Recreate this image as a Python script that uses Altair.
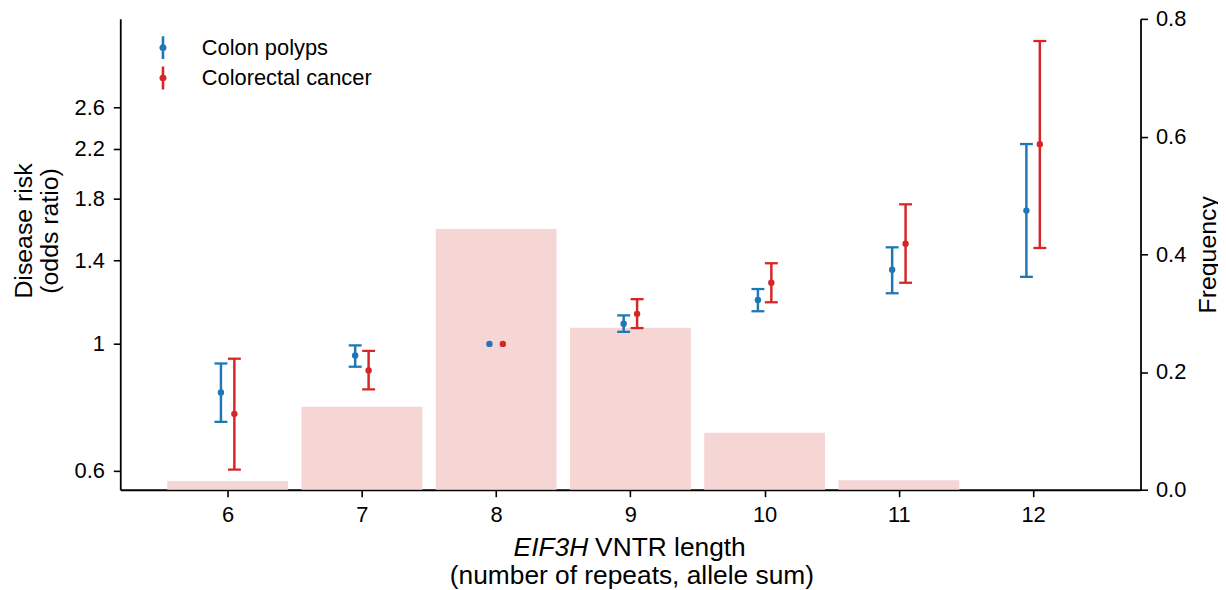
import altair as alt
import pandas as pd

# ---------------- data ----------------
lengths = [6, 7, 8, 9, 10, 11, 12]
frequency = [0.015, 0.141, 0.443, 0.275, 0.097, 0.016, 0.0]

series_names = ["Colon polyps", "Colorectal cancer"]
series_colors = ["#1f77b4", "#d62728"]

polyps_or = [0.822, 0.954, 1.0, 1.085, 1.194, 1.349, 1.713]
polyps_lo = [0.730, 0.912, None, 1.050, 1.141, 1.227, 1.311]
polyps_hi = [0.924, 0.994, None, 1.122, 1.248, 1.477, 2.241]

cancer_or = [0.754, 0.898, 1.0, 1.129, 1.280, 1.499, 2.239]
cancer_lo = [0.602, 0.832, None, 1.066, 1.183, 1.280, 1.473]
cancer_hi = [0.942, 0.972, None, 1.198, 1.385, 1.757, 3.397]

or_ticks = [0.6, 1, 1.4, 1.8, 2.2, 2.6]
freq_ticks = [0.0, 0.2, 0.4, 0.6, 0.8]

x_title_italic = "EIF3H"
x_title_rest = "VNTR length"
x_title_line2 = "(number of repeats, allele sum)"
y_left_title = ["Disease risk", "(odds ratio)"]
y_right_title = "Frequency"

# ---------------- tables ----------------
freq_df = pd.DataFrame({"length": lengths, "freq": frequency})

rows = []
for name, o, lo, hi in [
    (series_names[0], polyps_or, polyps_lo, polyps_hi),
    (series_names[1], cancer_or, cancer_lo, cancer_hi),
]:
    for i, L in enumerate(lengths):
        rows.append({"length": L, "series": name, "or": o[i], "lo": lo[i], "hi": hi[i]})
or_df = pd.DataFrame(rows)

FONT = "Liberation Sans"
x_scale = alt.Scale(domain=[5.2, 12.8], nice=False, zero=False)
log_scale = alt.Scale(type="log", domain=[0.555, 3.715], nice=False)
freq_scale = alt.Scale(domain=[0, 0.8], nice=False)
color_scale = alt.Scale(domain=series_names, range=series_colors)

x_axis = alt.Axis(values=lengths, format="d", title=None, labelPadding=8)

legend = alt.Legend(
    title=None,
    orient="none",
    legendX=30,
    legendY=16,
    padding=0,
    rowPadding=-3.5,
    labelOffset=26,
    labelLimit=400,
    symbolType="M0,-1V1M-0.2,0A0.2,0.2 0 1,0 0.2,0A0.2,0.2 0 1,0 -0.2,0",
    symbolSize=529,
    symbolStrokeWidth=2.6,
    symbolOpacity=1,
    labelFont=FONT,
    labelFontSize=22,
    labelColor="black",
)

series_color_fixed = alt.condition(
    "datum.series == '%s'" % series_names[0],
    alt.value(series_colors[0]),
    alt.value(series_colors[1]),
)

# ---------------- layers ----------------
bars = (
    alt.Chart(freq_df)
    .transform_calculate(x0="datum.length - 0.45", x1="datum.length + 0.45", zero="0")
    .mark_rect(color="#f6d5d5")
    .encode(
        x=alt.X("x0:Q", scale=x_scale, axis=x_axis),
        x2="x1:Q",
        y=alt.Y(
            "freq:Q",
            scale=freq_scale,
            axis=alt.Axis(
                orient="right",
                values=freq_ticks,
                format=".1f",
                title=y_right_title,
                titleAngle=270,
                titleBaseline="top",
                titlePadding=10,
                labelPadding=8,
            ),
        ),
        y2="zero:Q",
    )
)

offset_calc = "datum.length + (datum.series == '%s' ? -0.05 : 0.05)" % series_names[0]

base = alt.Chart(or_df).transform_calculate(xpos=offset_calc)

rules = base.mark_rule(strokeWidth=2.5, opacity=1).encode(
    x=alt.X("xpos:Q", scale=x_scale, axis=x_axis),
    y=alt.Y(
        "lo:Q",
        scale=log_scale,
        axis=alt.Axis(
            orient="left",
            values=or_ticks,
            labelExpr="datum.value == 1 ? '1' : format(datum.value, '.1f')",
            title=y_left_title,
            titleY=213,
            titlePadding=12,
            titleLineHeight=26,
            labelPadding=9,
        ),
    ),
    y2="hi:Q",
    color=series_color_fixed,
)

caps_lo = base.mark_tick(orient="horizontal", size=13, thickness=2.3, opacity=1).encode(
    x=alt.X("xpos:Q", scale=x_scale, axis=x_axis),
    y=alt.Y("lo:Q", scale=log_scale, axis=None),
    color=series_color_fixed,
)
caps_hi = base.mark_tick(orient="horizontal", size=13, thickness=2.3, opacity=1).encode(
    x=alt.X("xpos:Q", scale=x_scale, axis=x_axis),
    y=alt.Y("hi:Q", scale=log_scale, axis=None),
    color=series_color_fixed,
)
points = base.mark_point(filled=True, size=20, opacity=1, strokeWidth=2).encode(
    x=alt.X("xpos:Q", scale=x_scale, axis=x_axis),
    y=alt.Y("or:Q", scale=log_scale, axis=None),
    color=alt.Color("series:N", scale=color_scale, legend=legend),
    stroke=alt.Stroke("series:N", scale=color_scale, legend=legend),
)

title_src = alt.Chart(pd.DataFrame({"k": [0]}))
t1 = title_src.mark_text(
    text=x_title_italic, align="right", baseline="alphabetic",
    font=FONT, fontSize=26.5, fontStyle="italic", color="black",
).encode(x=alt.value(471), y=alt.value(541))
t2 = title_src.mark_text(
    text=x_title_rest, align="left", baseline="alphabetic",
    font=FONT, fontSize=26.5, color="black",
).encode(x=alt.value(478), y=alt.value(541))
t3 = title_src.mark_text(
    text=x_title_line2, align="center", baseline="alphabetic",
    font=FONT, fontSize=26.5, color="black",
).encode(x=alt.value(515), y=alt.value(569))

chart = (
    alt.layer(bars, rules, caps_lo, caps_hi, points, t1, t2, t3)
    .resolve_scale(y="independent")
    .properties(
        width=1027,
        height=474,
        padding={"left": 113, "top": 9, "right": 78, "bottom": 99},
        autosize=alt.AutoSizeParams(type="none"),
    )
    .configure_view(stroke=None)
    .configure_axis(
        grid=False,
        domainColor="black",
        domainWidth=1.8,
        tickColor="black",
        tickWidth=1.6,
        tickSize=7,
        labelFont=FONT,
        labelFontSize=22,
        labelColor="black",
        titleFont=FONT,
        titleFontSize=25,
        titleFontWeight="normal",
        titleColor="black",
    )
)

chart.save("out.html", embed_options={"renderer": "svg", "actions": False})
